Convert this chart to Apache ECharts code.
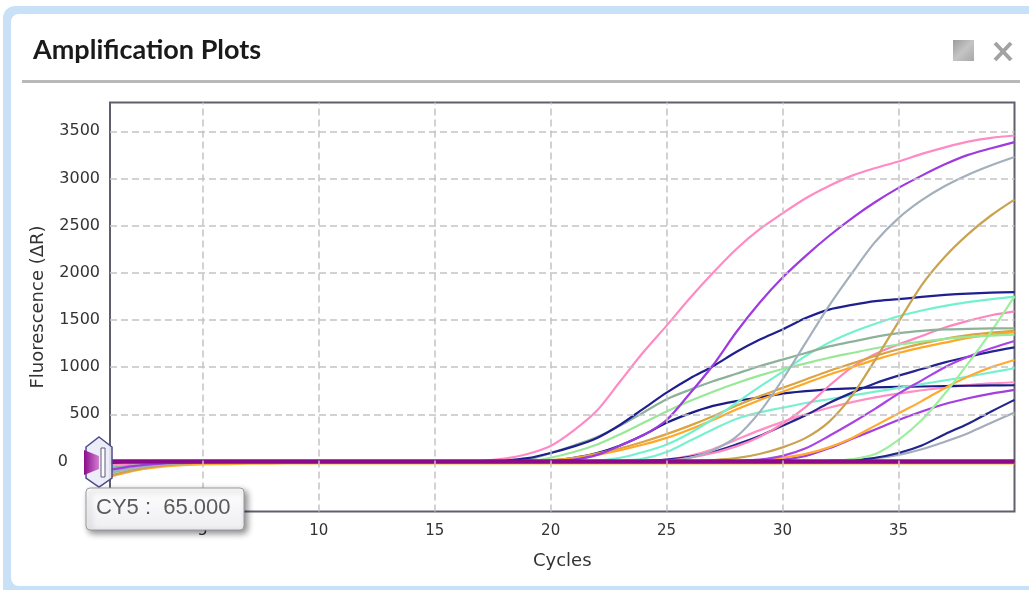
<!DOCTYPE html>
<html><head><meta charset="utf-8">
<script src="https://cdn.jsdelivr.net/npm/echarts@6/dist/echarts.min.js"></script>
<style>html,body{margin:0;padding:0;background:#fff}#c{width:1029px;height:590px}</style>
</head><body><div id="c"></div>
<script>
// ---- data ----
const cycles = [1,2,3,4,5,6,7,8,9,10,11,12,13,14,15,16,17,18,19,20,21,22,23,24,25,26,27,28,29,30,31,32,33,34,35,36,37,38,39,40];
const xTickLabels = [5,10,15,20,25,30,35];
const yTickLabels = [0,500,1000,1500,2000,2500,3000,3500];

const pinkA   = [-40,-20,-10,-5,-2,-1,0,0,0,0, 0,0,0,0,0,0,5,30,80,165, 330,540,850,1160,1440,1730,2000,2250,2460,2630, 2790,2920,3030,3110,3180,3260,3330,3390,3430,3455];
const purpleB = [-90,-50,-25,-12,-6,-3,-1,0,0,0, 0,0,0,0,0,0,0,0,0,5, 20,70,170,280,440,720,1020,1370,1680,1950, 2180,2390,2580,2750,2900,3030,3150,3250,3320,3385];
const grayC   = [-120,-70,-35,-18,-9,-4,-2,-1,0,0, 0,0,0,0,0,0,0,0,0,0, 0,0,0,0,0,40,120,260,520,870, 1260,1650,2000,2330,2580,2770,2920,3040,3140,3227];
const tanD    = [-150,-90,-50,-25,-12,-6,-3,-1,0,0, 0,0,0,0,0,0,0,0,0,0, 0,0,0,0,0,5,15,35,80,150, 250,420,700,1080,1480,1870,2170,2410,2610,2776];
const navyE   = [-30,-15,-8,-4,-2,-1,0,0,0,0, 0,0,0,0,0,0,0,10,35,90, 160,250,390,560,730,880,1010,1160,1290,1400, 1520,1610,1660,1700,1720,1745,1765,1780,1790,1796];
const grayGreenH = [-70,-40,-20,-10,-5,-2,-1,0,0,0, 0,0,0,0,0,0,0,0,20,90, 170,260,380,520,660,760,850,930,1010,1080, 1150,1220,1270,1320,1360,1385,1400,1405,1410,1412];
const lightGreenF4 = [-100,-60,-30,-15,-7,-3,-1,0,0,0, 0,0,0,0,0,0,0,0,0,40, 100,180,290,410,530,640,740,830,910,980, 1040,1100,1150,1200,1240,1270,1300,1320,1335,1345];
const aquaF2  = [-50,-25,-12,-6,-3,-1,0,0,0,0, 0,0,0,0,0,0,0,0,0,0, 0,10,40,100,180,300,450,620,790,950, 1120,1260,1370,1460,1540,1600,1650,1690,1720,1747];
const lightGreenF3 = [-130,-80,-40,-20,-10,-5,-2,-1,0,0, 0,0,0,0,0,0,0,0,0,0, 0,0,0,0,0,0,0,0,0,0, 0,5,25,80,230,440,720,1040,1380,1750];
const orangeI1 = [-140,-85,-45,-22,-11,-5,-2,-1,0,0, 0,0,0,0,0,0,0,0,0,10, 30,70,120,180,250,340,440,550,650,740, 830,920,1000,1080,1150,1210,1260,1310,1345,1370];
const goldI2  = [-110,-65,-35,-17,-8,-4,-2,0,0,0, 0,0,0,0,0,0,0,0,0,15, 40,85,140,210,290,380,480,590,690,780, 870,960,1040,1120,1190,1250,1300,1340,1365,1385];
const pinkG   = [-80,-45,-22,-11,-5,-2,-1,0,0,0, 0,0,0,0,0,0,0,0,0,0, 0,0,0,0,10,40,90,160,260,400, 580,800,1000,1140,1240,1330,1420,1490,1550,1591];
const purpleJ = [-60,-35,-18,-9,-4,-2,-1,0,0,0, 0,0,0,0,0,0,0,0,0,0, 0,0,0,0,0,0,0,5,20,60, 140,270,410,560,720,860,1000,1110,1200,1277];
const navyK   = [-100,-55,-28,-14,-7,-3,-1,0,0,0, 0,0,0,0,0,0,0,0,0,0, 0,0,0,5,20,50,100,180,270,380, 490,620,730,830,910,980,1050,1110,1165,1210];
const orangeL = [-160,-100,-55,-28,-14,-7,-3,-1,0,0, 0,0,0,0,0,0,0,0,0,0, 0,0,0,0,0,0,0,5,15,40, 80,150,250,380,510,640,780,900,1000,1076];
const aquaM   = [-70,-38,-19,-9,-4,-2,-1,0,0,0, 0,0,0,0,0,0,0,0,0,0, 0,0,5,30,100,220,340,450,520,570, 620,660,700,740,780,820,860,900,945,988];
const navyO   = [-20,-10,-5,-2,-1,0,0,0,0,0, 0,0,0,0,0,0,0,0,0,10, 40,90,170,280,410,510,590,640,680,720, 745,765,775,785,790,795,800,803,806,808];
const pinkN   = [-55,-30,-15,-7,-3,-1,0,0,0,0, 0,0,0,0,0,0,0,0,0,0, 0,0,0,5,20,60,130,230,330,420, 500,570,630,680,720,755,785,810,828,840];
const purpleP = [-90,-50,-25,-12,-6,-3,-1,0,0,0, 0,0,0,0,0,0,0,0,0,0, 0,0,0,0,0,0,0,0,5,20, 60,140,240,340,440,530,610,670,720,759];
const navyQ   = [-45,-22,-11,-5,-2,-1,0,0,0,0, 0,0,0,0,0,0,0,0,0,0, 0,0,0,0,0,0,0,0,0,0, 0,5,15,40,90,170,290,400,530,653];
const grayR   = [-125,-75,-38,-19,-9,-4,-2,-1,0,0, 0,0,0,0,0,0,0,0,0,0, 0,0,0,0,0,0,0,0,0,0, 0,5,15,35,70,130,210,300,410,520];
const orangeFlatT = [-150,-95,-62,-42,-32,-27,-24,-22,-21,-20, -20,-20,-20,-20,-20,-20,-20,-20,-20,-20, -20,-20,-20,-20,-20,-20,-20,-20,-20,-20, -20,-20,-20,-20,-20,-20,-20,-20,-20,-20];
const baselineS = [0,0,0,0,0,0,0,0,0,0, 0,0,0,0,0,0,0,0,0,0, 0,0,0,0,0,0,0,0,0,0, 0,0,0,0,0,0,0,0,0,0];

const curves = [
  ['orangeFlat', orangeFlatT, '#ffb030'],
  ['grayR', grayR, '#a5acbb'],
  ['navyQ', navyQ, '#23238c'],
  ['purpleP', purpleP, '#a33fe0'],
  ['pinkN', pinkN, '#ff8fc4'],
  ['navyO', navyO, '#1c1c88'],
  ['aquaM', aquaM, '#78f0cf'],
  ['orangeL', orangeL, '#ffaa30'],
  ['navyK', navyK, '#25258f'],
  ['purpleJ', purpleJ, '#a844e6'],
  ['pinkG', pinkG, '#ff86bd'],
  ['goldI2', goldI2, '#d9a441'],
  ['orangeI1', orangeI1, '#ffa726'],
  ['lightGreenF3', lightGreenF3, '#9cf09c'],
  ['aquaF2', aquaF2, '#72f2cc'],
  ['lightGreenF4', lightGreenF4, '#98e898'],
  ['grayGreenH', grayGreenH, '#8cb39a'],
  ['navyE', navyE, '#1f1f8f'],
  ['tanD', tanD, '#c9a34f'],
  ['grayC', grayC, '#a3afbd'],
  ['purpleB', purpleB, '#9d3be0'],
  ['pinkA', pinkA, '#ff8ac4']
];

const gridDash = { color: '#c4c4c4', type: [7, 4], width: 1.5 };
const series = [{
  name: 'gridlines', type: 'line', silent: true, showSymbol: false, z: 1,
  data: cycles.map((x, i) => [x, baselineS[i]]),
  lineStyle: { opacity: 0 },
  markLine: {
    silent: true, symbol: ['none', 'none'], label: { show: false }, animation: false,
    lineStyle: gridDash,
    data: xTickLabels.map(v => ({ xAxis: v })).concat(yTickLabels.filter(v => v !== 0).map(v => ({ yAxis: v })))
  }
}];
curves.forEach(c => series.push({
  name: c[0], type: 'line', showSymbol: false, smooth: 0.3, silent: true,
  data: cycles.map((x, i) => [x, c[1][i]]),
  lineStyle: { color: c[2], width: 2.2 }, z: 3
}));
series.push({
  name: 'baseline', type: 'line', showSymbol: false, silent: true,
  data: cycles.map((x, i) => [x, baselineS[i]]),
  lineStyle: { color: '#8a0a8a', width: 4.5 }, z: 4
});

const chart = echarts.init(document.getElementById('c'), null, { renderer: 'canvas' });
chart.setOption({
  animation: false,
  backgroundColor: 'transparent',
  grid: { left: 110, right: 14.5, top: 102.5, bottom: 78.5, show: true, borderColor: '#5f5f6e', borderWidth: 2, backgroundColor: '#fff' },
  xAxis: {
    type: 'value', min: 1, max: 40,
    name: 'Cycles', nameLocation: 'middle', nameGap: 41,
    nameTextStyle: { fontFamily: 'DejaVu Sans', fontSize: 18, color: '#333' },
    axisLine: { show: false },
    axisTick: { show: true, customValues: xTickLabels, length: 4, lineStyle: { color: '#c8c8c8' } },
    axisLabel: { customValues: xTickLabels, margin: 12, fontFamily: 'DejaVu Sans', fontSize: 15, color: '#333' },
    splitLine: { show: false }
  },
  yAxis: {
    type: 'value', min: -530, max: 3805,
    name: 'Fluorescence (\u0394R)', nameLocation: 'middle', nameGap: 58,
    nameTextStyle: { fontFamily: 'DejaVu Sans', fontSize: 18, color: '#333' },
    axisLine: { show: false },
    axisTick: { show: false, customValues: yTickLabels },
    axisLabel: {
      customValues: yTickLabels, margin: 10, fontFamily: 'DejaVu Sans', fontSize: 16, color: '#333',
      formatter: v => (v === 0 ? '{z|0}' : String(v)),
      rich: { z: { fontFamily: 'DejaVu Sans', fontSize: 16, color: '#333', padding: [0, 32, 0, 0] } }
    },
    splitLine: { show: false }
  },
  series: series,
  graphic: [
    { type: 'rect', z: -10, silent: true, shape: { x: 3, y: 6, width: 1045, height: 600, r: 12 }, style: { fill: '#c9e1f7' } },
    { type: 'rect', z: -9, silent: true, shape: { x: 11, y: 14, width: 1040, height: 572, r: 8 }, style: { fill: '#fff' } },
    { type: 'rect', z: -8, silent: true, shape: { x: 22, y: 80, width: 998, height: 3 }, style: { fill: '#b9b9b9' } },
    { type: 'text', z: 10, silent: true, left: 33, top: 37, style: { text: 'Amplification Plots', font: 'bold 27px Lato', fill: '#1a1a1a' } },
    { type: 'rect', z: 10, silent: true, shape: { x: 953, y: 40, width: 21, height: 21 },
      style: { fill: new echarts.graphic.LinearGradient(0, 0, 1, 1, [{ offset: 0, color: '#9c9c9c' }, { offset: 0.5, color: '#c4c4c4' }, { offset: 1, color: '#a8a8a8' }]) } },
    { type: 'line', z: 10, silent: true, shape: { x1: 995, y1: 43, x2: 1011, y2: 60 }, style: { stroke: '#a2a2a2', lineWidth: 4 } },
    { type: 'line', z: 10, silent: true, shape: { x1: 1011, y1: 43, x2: 995, y2: 60 }, style: { stroke: '#a2a2a2', lineWidth: 4 } },
    // threshold handle
    { type: 'polygon', z: 20, silent: true, shape: { points: [[99, 437], [112, 447], [112, 478], [99, 487], [86, 478], [86, 447]] },
      style: { fill: 'rgba(235,235,248,0.9)', stroke: '#4b4b8c', lineWidth: 1.5 } },
    { type: 'polygon', z: 21, silent: true, shape: { points: [[84, 450], [99, 456], [99, 469], [84, 475]] },
      style: { fill: new echarts.graphic.LinearGradient(0, 0, 1, 0, [{ offset: 0, color: '#8b0a8b' }, { offset: 1, color: '#d080d0' }]) } },
    { type: 'rect', z: 22, silent: true, shape: { x: 101, y: 448, width: 4, height: 29 }, style: { fill: '#fff', stroke: '#5a5a7a', lineWidth: 1 } },
    // tooltip box
    { type: 'rect', z: 30, silent: true, shape: { x: 86, y: 488, width: 158, height: 42, r: 4 },
      style: { fill: new echarts.graphic.LinearGradient(0, 0, 0, 1, [{ offset: 0, color: '#ffffff' }, { offset: 1, color: '#eeeef2' }]),
        stroke: '#9a9aa2', lineWidth: 1, shadowBlur: 6, shadowColor: 'rgba(0,0,0,0.45)', shadowOffsetX: 3, shadowOffsetY: 3 } },
    { type: 'text', z: 31, silent: true, left: 96, top: 497, style: { text: 'CY5 :  65.000', font: '22px "Liberation Sans"', fill: '#5a5a5a' } }
  ]
});
</script></body></html>
